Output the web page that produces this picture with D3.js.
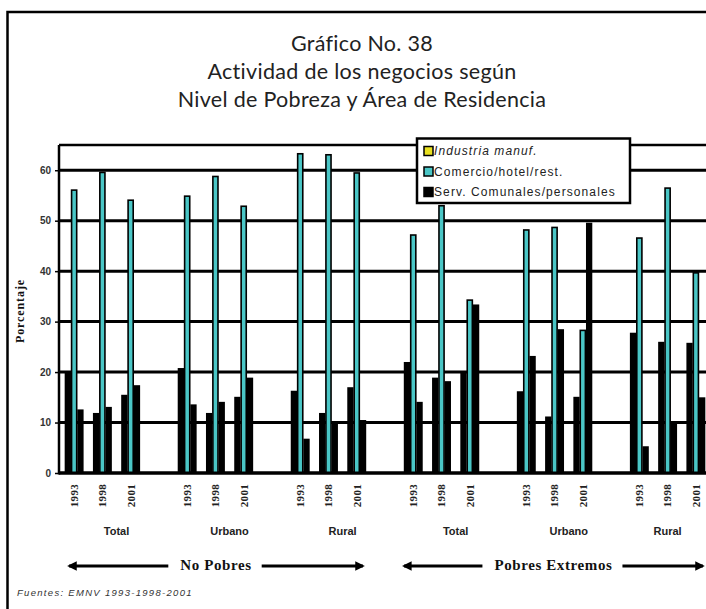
<!DOCTYPE html>
<html>
<head>
<meta charset="utf-8">
<script src="https://cdn.jsdelivr.net/npm/d3@7"></script>
<style>
  html, body { margin: 0; padding: 0; background: #fff; }
  svg { display: block; }
</style>
</head>
<body>
<svg id="chart" width="706" height="609"></svg>
<script>
// ---- Data ----
const titleLines = ["Gráfico No. 38", "Actividad de los negocios según", "Nivel de Pobreza y Área de Residencia"];
const povertyGroups = ["No Pobres", "Pobres Extremos"];
const areas = ["Total", "Urbano", "Rural", "Total", "Urbano", "Rural"];
const years = ["1993", "1998", "2001"];
const seriesNames = ["Industria manuf.", "Comercio/hotel/rest.", "Serv. Comunales/personales"];
// order: NP Total(93,98,01), NP Urbano, NP Rural, PE Total, PE Urbano, PE Rural
const industria = [20.2, 11.9, 15.5, 20.8, 11.9, 15.1, 16.3, 11.9, 17.0, 22.0, 18.9, 20.2, 16.2, 11.2, 15.1, 27.8, 26.0, 25.8];
const comercio  = [56.2, 59.7, 54.2, 55.0, 58.9, 53.0, 63.4, 63.2, 59.6, 47.3, 53.1, 34.4, 48.3, 48.8, 28.4, 46.7, 56.6, 39.8];
const servicios = [12.6, 13.1, 17.4, 13.6, 14.1, 18.9, 6.8, 9.9, 10.5, 14.1, 18.2, 33.4, 23.2, 28.5, 49.6, 5.3, 9.9, 15.0];
const yTicks = [0, 10, 20, 30, 40, 50, 60];
const yLabel = "Porcentaje";
const sourceNote = "Fuentes: EMNV 1993-1998-2001";

// ---- Build ----
const seriesValues = [industria, comercio, servicios];
const barFills = ["#000000", "#4ac6c6", "#000000"];
const legendFills = ["#e8e020", "#4ac6c6", "#000000"];

const svg = d3.select("#chart");
svg.append("rect").attr("width", 706).attr("height", 609).attr("fill", "#fff");

// outer frame
svg.append("path").attr("d", "M7.5,609 V12 H706").attr("fill", "none")
  .attr("stroke", "#000").attr("stroke-width", 2.5);

// title
svg.append("g").selectAll("text").data(titleLines).join("text")
  .attr("x", 362).attr("y", (d, i) => 51 + i * 28)
  .attr("text-anchor", "middle")
  .attr("font-family", "Lato, 'Open Sans', sans-serif")
  .attr("font-size", 21.5).attr("fill", "#222").attr("letter-spacing", 0.3)
  .text(d => d);

// slots: 6 area groups x 3 years, with an empty slot between groups
const nSlots = areas.length * 4 - 1;
const slotIndex = (g, yi) => g * 4 + yi;
const x = d3.scaleBand().domain(d3.range(nSlots)).range([60, 710]).paddingInner(0).paddingOuter(0);
const xs = d3.scaleBand().domain(seriesNames).range([0, x.bandwidth()]).paddingInner(0).paddingOuter(0.74);
const y = d3.scaleLinear().domain([0, 65]).range([473, 145]);

// gridlines
svg.append("g").selectAll("line").data(yTicks.concat([65])).join("line")
  .attr("x1", 59).attr("x2", 706)
  .attr("y1", d => y(d)).attr("y2", d => y(d))
  .attr("stroke", "#000").attr("stroke-width", d => d === 65 ? 2.5 : 3);

// y axis
const yAxis = d3.axisLeft(y).tickValues(yTicks).tickSize(4).tickPadding(4).tickFormat(d3.format("d"));
const yg = svg.append("g").attr("transform", "translate(59,0)").call(yAxis);
yg.select(".domain").remove();
yg.selectAll(".tick line").attr("stroke", "#000").attr("stroke-width", 1.5);
yg.selectAll(".tick text").attr("font-family", "Arial, 'Liberation Sans', sans-serif")
  .attr("font-size", 10).attr("font-weight", "bold").attr("fill", "#333");
svg.append("line").attr("x1", 59).attr("x2", 59).attr("y1", y(65)).attr("y2", y(0) + 1.5)
  .attr("stroke", "#000").attr("stroke-width", 2.5);

// y label
svg.append("text").attr("transform", "translate(24,311) rotate(-90)")
  .attr("text-anchor", "middle")
  .attr("font-family", "'Liberation Serif', 'Times New Roman', serif")
  .attr("font-size", 12).attr("font-weight", "bold").attr("fill", "#111").attr("letter-spacing", 0.9)
  .text(yLabel);

// bars
const barData = [];
areas.forEach((a, g) => {
  years.forEach((yr, yi) => {
    seriesNames.forEach((s, si) => {
      barData.push({ slot: slotIndex(g, yi), series: s, si: si, value: seriesValues[si][g * 3 + yi] });
    });
  });
});
svg.append("g").selectAll("rect").data(barData).join("rect")
  .attr("x", d => x(d.slot) + xs(d.series) + (d.si === 1 ? 0.6 : 0))
  .attr("width", d => xs.bandwidth() - (d.si === 1 ? 1.2 : 0))
  .attr("y", d => y(d.value) + (d.si === 1 ? 0.7 : 0))
  .attr("height", d => y(0) - y(d.value) - (d.si === 1 ? 0.7 : 0))
  .attr("fill", d => barFills[d.si])
  .attr("stroke", d => d.si === 1 ? "#000" : "none")
  .attr("stroke-width", 1.6);

// baseline redraw
svg.append("line").attr("x1", 59).attr("x2", 706).attr("y1", y(0)).attr("y2", y(0))
  .attr("stroke", "#000").attr("stroke-width", 3);

// year labels
const yearLabels = [];
areas.forEach((a, g) => years.forEach((yr, yi) => yearLabels.push({ slot: slotIndex(g, yi), text: yr })));
svg.append("g").selectAll("text").data(yearLabels).join("text")
  .attr("transform", d => `translate(${x(d.slot) + x.bandwidth() / 2},484) rotate(-90)`)
  .attr("text-anchor", "end").attr("dy", "0.35em")
  .attr("font-family", "'Liberation Serif', 'Times New Roman', serif")
  .attr("font-size", 11).attr("font-weight", "bold").attr("fill", "#222").attr("letter-spacing", 0.3)
  .text(d => d.text);

// area labels (centered over each group's slots)
svg.append("g").selectAll("text").data(areas).join("text")
  .attr("x", (d, g) => {
    const first = slotIndex(g, 0);
    const last = Math.min(first + 3, nSlots - 1);
    return (x(first) + x(last) + x.bandwidth()) / 2;
  })
  .attr("y", 535).attr("text-anchor", "middle")
  .attr("font-family", "'Liberation Sans Narrow', 'Arial Narrow', Arial, sans-serif")
  .attr("font-size", 11).attr("font-weight", "bold").attr("fill", "#222")
  .text(d => d);

// poverty group arrows
const arrowSpans = [[0.25, 10.79], [12.1, 22.82]]; // in slot units
svg.append("defs").append("marker").attr("id", "ah")
  .attr("viewBox", "0 0 10 10").attr("refX", 8).attr("refY", 5)
  .attr("markerWidth", 3.2).attr("markerHeight", 3.2).attr("orient", "auto-start-reverse")
  .append("path").attr("d", "M0,0 L10,5 L0,10 z").attr("fill", "#000");
const slotPos = s => x.range()[0] + s * x.step();
povertyGroups.forEach((pg, i) => {
  const x0 = slotPos(arrowSpans[i][0]);
  const x1 = slotPos(arrowSpans[i][1]);
  const cx = (x0 + x1) / 2;
  const t = svg.append("text").attr("x", cx).attr("y", 570).attr("text-anchor", "middle")
    .attr("font-family", "'Liberation Serif', 'Times New Roman', serif")
    .attr("font-size", 15).attr("font-weight", "bold").attr("fill", "#111").attr("letter-spacing", 0.6).text(pg);
  const w = t.node().getComputedTextLength();
  svg.append("line").attr("x1", cx - w / 2 - 12).attr("x2", x0 + 2).attr("y1", 566).attr("y2", 566)
    .attr("stroke", "#000").attr("stroke-width", 3).attr("marker-end", "url(#ah)");
  svg.append("line").attr("x1", cx + w / 2 + 10).attr("x2", x1 - 2).attr("y1", 566).attr("y2", 566)
    .attr("stroke", "#000").attr("stroke-width", 3).attr("marker-end", "url(#ah)");
});

// source
svg.append("text").attr("x", 17).attr("y", 596)
  .attr("font-family", "Arial, 'Liberation Sans', sans-serif")
  .attr("font-size", 9.5).attr("font-style", "italic").attr("fill", "#333")
  .attr("letter-spacing", 1.3)
  .text(sourceNote);

// legend
const lg = svg.append("g");
lg.append("rect").attr("x", 417).attr("y", 138.5).attr("width", 213).attr("height", 64.5)
  .attr("fill", "#fff").attr("stroke", "#000").attr("stroke-width", 2.5);
const rows = lg.selectAll("g.row").data(seriesNames).join("g").attr("class", "row")
  .attr("transform", (d, i) => `translate(424,${151 + i * 20.5})`);
rows.append("rect").attr("x", 0).attr("y", -4.5).attr("width", 9).attr("height", 9)
  .attr("fill", (d, i) => legendFills[i]).attr("stroke", "#000").attr("stroke-width", 1.5);
rows.append("text").attr("x", 10).attr("dy", "0.35em")
  .attr("font-family", "Arial, 'Liberation Sans', sans-serif")
  .attr("font-size", 12).attr("font-style", (d, i) => i === 0 ? "italic" : "normal")
  .attr("fill", "#222").attr("letter-spacing", 1.1)
  .text(d => d);
</script>
</body>
</html>
